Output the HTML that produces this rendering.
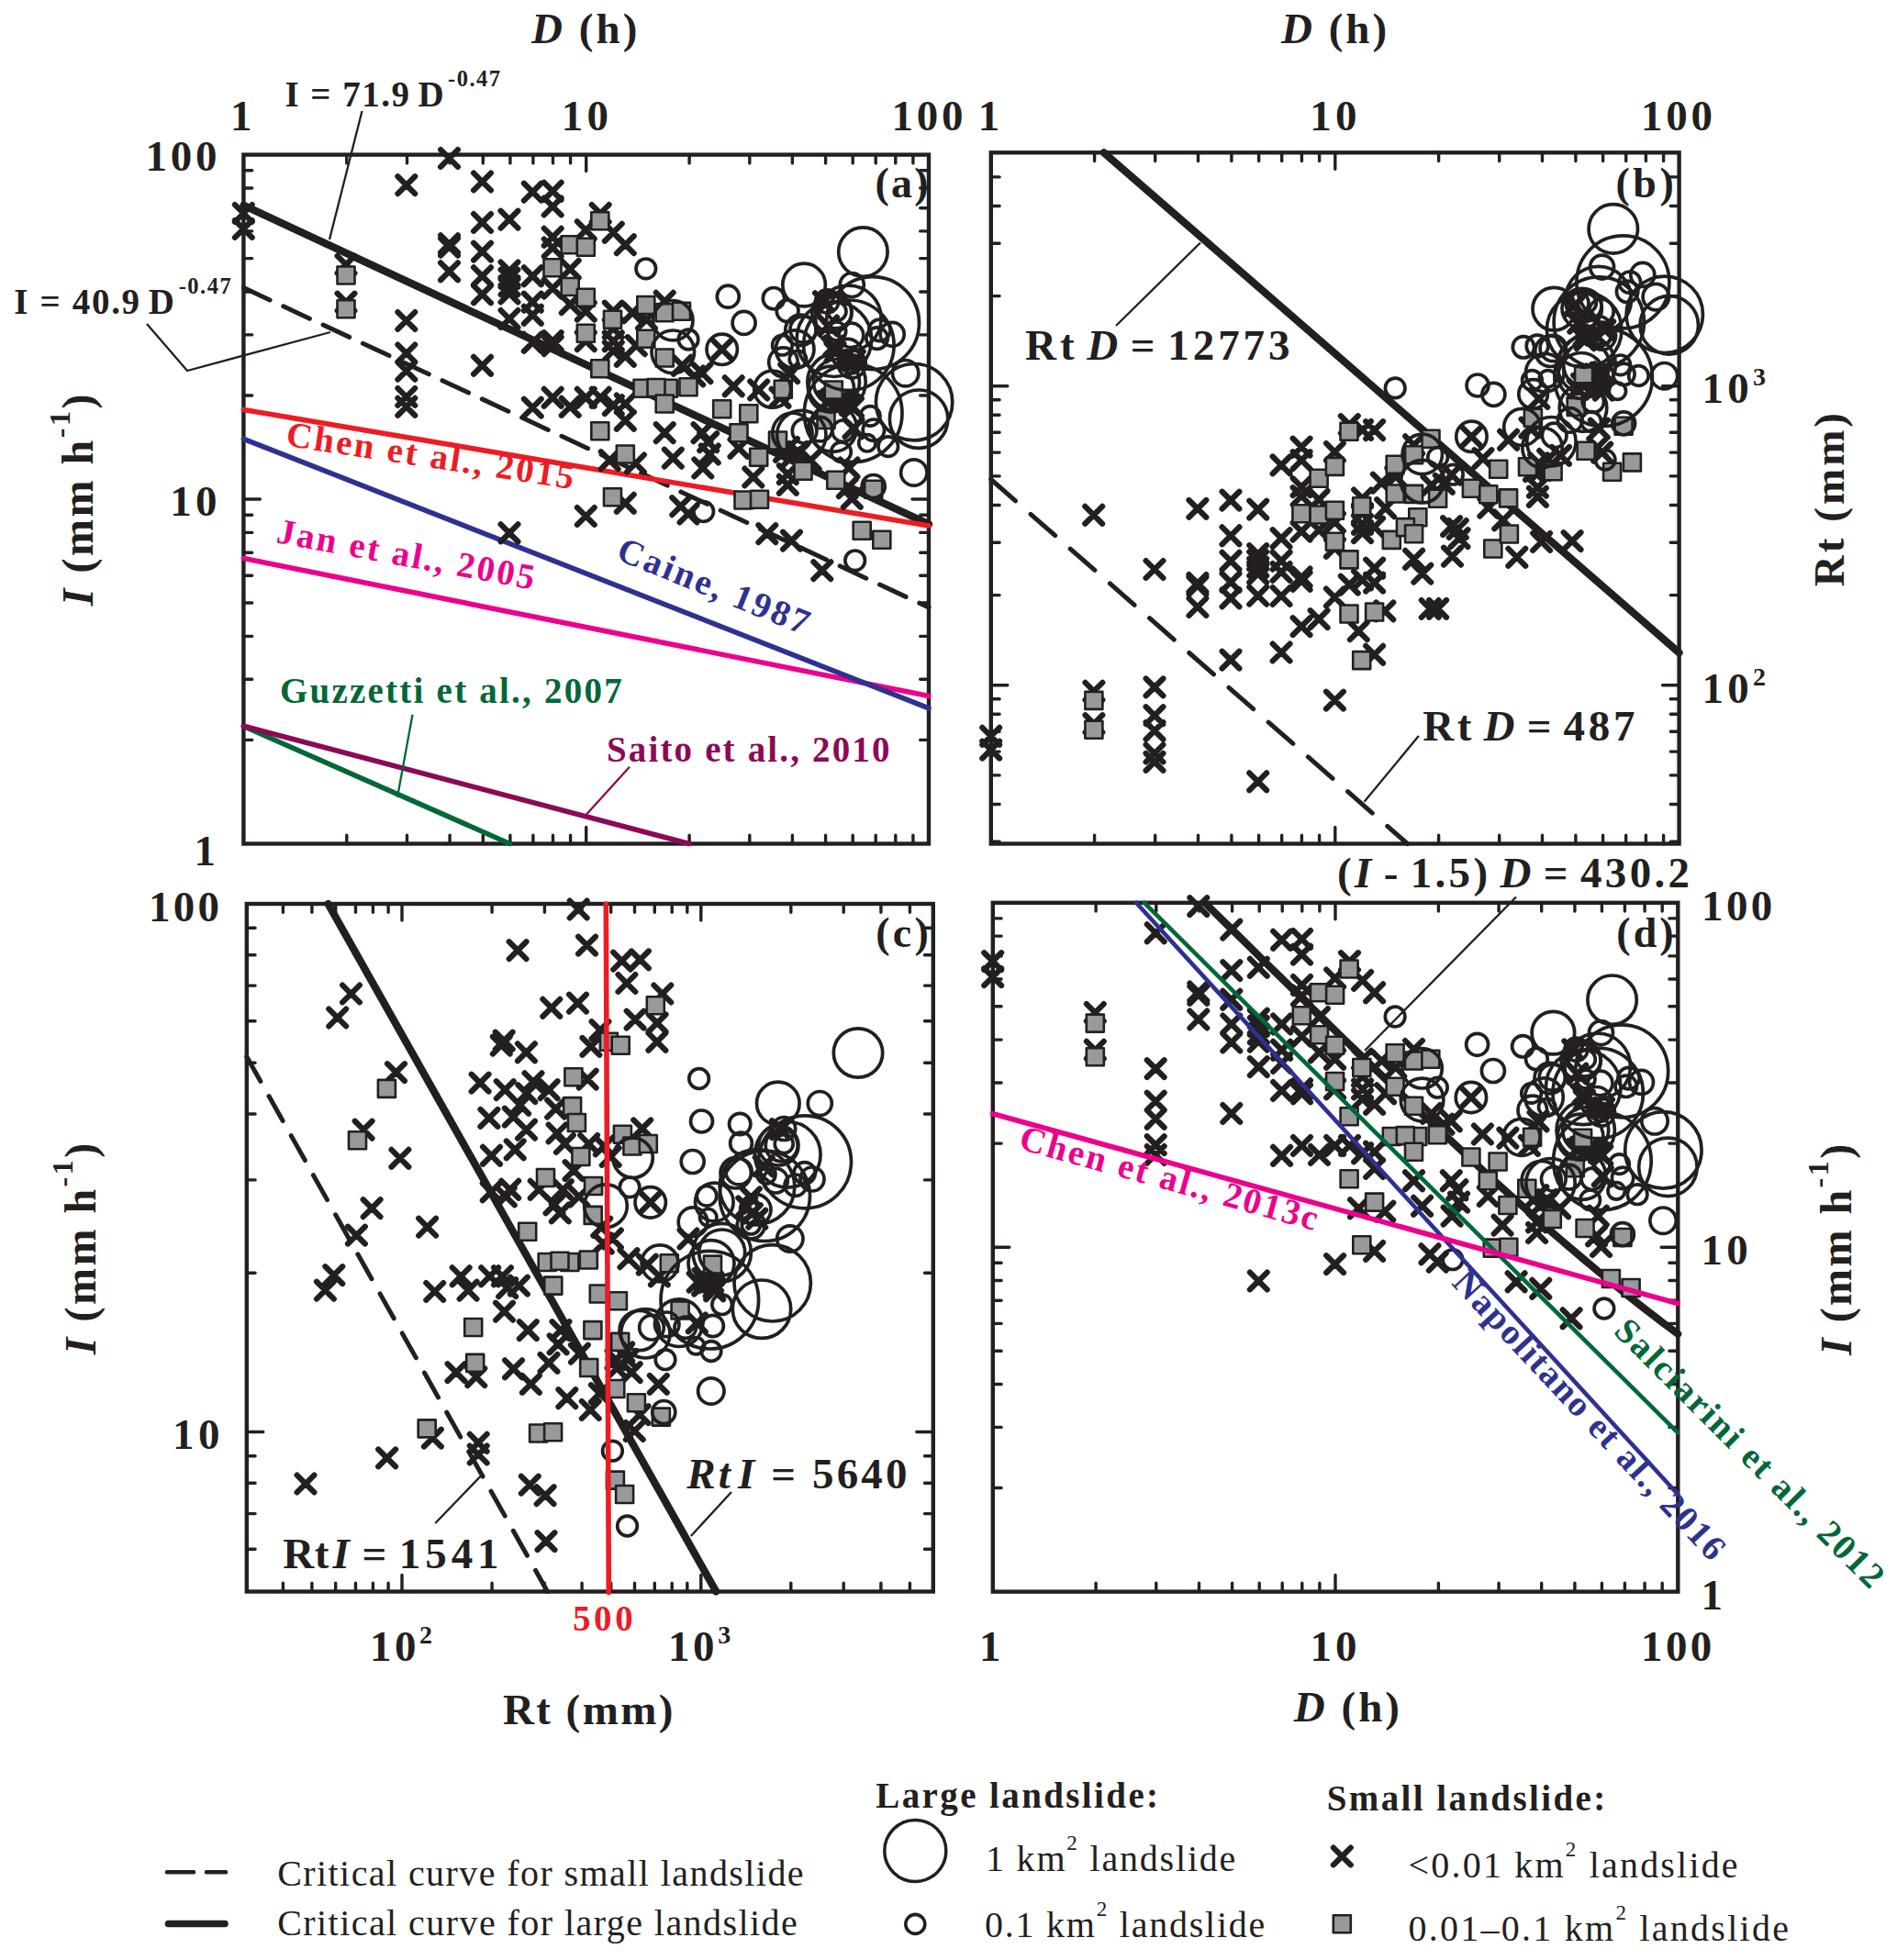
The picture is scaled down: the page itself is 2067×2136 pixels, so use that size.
<!DOCTYPE html>
<html><head><meta charset="utf-8"><title>Rainfall thresholds</title>
<style>
html,body{margin:0;padding:0;background:#fff}
svg{display:block}
</style></head>
<body>
<svg xmlns="http://www.w3.org/2000/svg" width="2067" height="2136" viewBox="0 0 2067 2136">
<rect width="2067" height="2136" fill="#fff"/>
<g font-family="'Liberation Serif','Times New Roman',serif" font-weight="bold" fill="#231f20">
<g id="pa">
<path d="M377.8 168.6v9.3M377.8 919.5v-9.3M443.5 168.6v9.3M443.5 919.5v-9.3M490.1 168.6v9.3M490.1 919.5v-9.3M526.3 168.6v9.3M526.3 919.5v-9.3M555.9 168.6v9.3M555.9 919.5v-9.3M580.9 168.6v9.3M580.9 919.5v-9.3M602.5 168.6v9.3M602.5 919.5v-9.3M621.6 168.6v9.3M621.6 919.5v-9.3M638.7 168.6v18M638.7 919.5v-18M751.1 168.6v9.3M751.1 919.5v-9.3M816.8 168.6v9.3M816.8 919.5v-9.3M863.4 168.6v9.3M863.4 919.5v-9.3M899.6 168.6v9.3M899.6 919.5v-9.3M929.2 168.6v9.3M929.2 919.5v-9.3M954.2 168.6v9.3M954.2 919.5v-9.3M975.8 168.6v9.3M975.8 919.5v-9.3M994.9 168.6v9.3M994.9 919.5v-9.3" stroke="#231f20" stroke-width="3.4" stroke-linecap="round" fill="none"/>
<path d="M265.4 806.4h9.3M1012 806.4h-9.3M265.4 740.3h9.3M1012 740.3h-9.3M265.4 693.4h9.3M1012 693.4h-9.3M265.4 657h9.3M1012 657h-9.3M265.4 627.3h9.3M1012 627.3h-9.3M265.4 602.2h9.3M1012 602.2h-9.3M265.4 580.4h9.3M1012 580.4h-9.3M265.4 561.2h9.3M1012 561.2h-9.3M265.4 544h18M1012 544h-18M265.4 431h9.3M1012 431h-9.3M265.4 364.9h9.3M1012 364.9h-9.3M265.4 318h9.3M1012 318h-9.3M265.4 281.6h9.3M1012 281.6h-9.3M265.4 251.9h9.3M1012 251.9h-9.3M265.4 226.8h9.3M1012 226.8h-9.3M265.4 205h9.3M1012 205h-9.3M265.4 185.8h9.3M1012 185.8h-9.3" stroke="#231f20" stroke-width="3.4" stroke-linecap="round" fill="none"/>
<rect x="265.4" y="168.6" width="746.6" height="750.9" fill="none" stroke="#231f20" stroke-width="4.4"/>
<line x1="265.4" y1="223.8" x2="1012" y2="571.2" stroke="#231f20" stroke-width="8.2" stroke-linecap="round"/>
<line x1="265.4" y1="313.6" x2="1012" y2="662" stroke="#231f20" stroke-width="5" stroke-dasharray="31.6 16.2" stroke-linecap="round"/>
<line x1="265.4" y1="791.5" x2="555.5" y2="919.5" stroke="#006838" stroke-width="5.6" stroke-linecap="round"/>
<line x1="265.4" y1="791.3" x2="751" y2="919.5" stroke="#8c0a55" stroke-width="5.6" stroke-linecap="round"/>
<line x1="265.4" y1="608.6" x2="1012" y2="758.4" stroke="#ec008c" stroke-width="5.6" stroke-linecap="round"/>
<line x1="265.4" y1="478.3" x2="1012" y2="771.8" stroke="#2e3192" stroke-width="5.6" stroke-linecap="round"/>
<line x1="265.4" y1="446.5" x2="1012" y2="573" stroke="#ed1c24" stroke-width="5.6" stroke-linecap="round"/>
<path d="M255.9 223.1l18.8 18.8m0 -18.8l-18.8 18.8M255.9 240.1l18.8 18.8m0 -18.8l-18.8 18.8M367.6 278.9l18.8 18.8m0 -18.8l-18.8 18.8M367.6 319.8l18.8 18.8m0 -18.8l-18.8 18.8M433.4 192.3l18.8 18.8m0 -18.8l-18.8 18.8M433.4 340.1l18.8 18.8m0 -18.8l-18.8 18.8M433.4 375.6l18.8 18.8m0 -18.8l-18.8 18.8M433.4 394.8l18.8 18.8m0 -18.8l-18.8 18.8M433.4 423.1l18.8 18.8m0 -18.8l-18.8 18.8M433.4 433.9l18.8 18.8m0 -18.8l-18.8 18.8M480.1 163.1l18.8 18.8m0 -18.8l-18.8 18.8M480.1 256.4l18.8 18.8m0 -18.8l-18.8 18.8M480.1 259.8l18.8 18.8m0 -18.8l-18.8 18.8M480.1 286.4l18.8 18.8m0 -18.8l-18.8 18.8M516.1 188.6l18.8 18.8m0 -18.8l-18.8 18.8M516.1 233.1l18.8 18.8m0 -18.8l-18.8 18.8M516.1 264.8l18.8 18.8m0 -18.8l-18.8 18.8M516.1 291.4l18.8 18.8m0 -18.8l-18.8 18.8M516.1 311.4l18.8 18.8m0 -18.8l-18.8 18.8M516.1 388.9l18.8 18.8m0 -18.8l-18.8 18.8M545.6 229.8l18.8 18.8m0 -18.8l-18.8 18.8M545.6 285.6l18.8 18.8m0 -18.8l-18.8 18.8M545.6 293.9l18.8 18.8m0 -18.8l-18.8 18.8M545.6 302.3l18.8 18.8m0 -18.8l-18.8 18.8M545.6 310.6l18.8 18.8m0 -18.8l-18.8 18.8M545.6 338.1l18.8 18.8m0 -18.8l-18.8 18.8M570.9 199.8l18.8 18.8m0 -18.8l-18.8 18.8M570.9 291.4l18.8 18.8m0 -18.8l-18.8 18.8M570.9 319.8l18.8 18.8m0 -18.8l-18.8 18.8M570.9 333.9l18.8 18.8m0 -18.8l-18.8 18.8M570.9 363.9l18.8 18.8m0 -18.8l-18.8 18.8M570.9 434.8l18.8 18.8m0 -18.8l-18.8 18.8M592.8 198.9l18.8 18.8m0 -18.8l-18.8 18.8M592.8 215.6l18.8 18.8m0 -18.8l-18.8 18.8M592.8 248.9l18.8 18.8m0 -18.8l-18.8 18.8M592.8 260.6l18.8 18.8m0 -18.8l-18.8 18.8M592.8 304.8l18.8 18.8m0 -18.8l-18.8 18.8M592.8 362.3l18.8 18.8m0 -18.8l-18.8 18.8M592.8 367.3l18.8 18.8m0 -18.8l-18.8 18.8M592.8 423.9l18.8 18.8m0 -18.8l-18.8 18.8M611.8 283.9l18.8 18.8m0 -18.8l-18.8 18.8M611.8 322.3l18.8 18.8m0 -18.8l-18.8 18.8M611.8 433.9l18.8 18.8m0 -18.8l-18.8 18.8M628.9 241.4l18.8 18.8m0 -18.8l-18.8 18.8M628.9 329.8l18.8 18.8m0 -18.8l-18.8 18.8M628.9 362.3l18.8 18.8m0 -18.8l-18.8 18.8M628.9 423.9l18.8 18.8m0 -18.8l-18.8 18.8M644.8 223.1l18.8 18.8m0 -18.8l-18.8 18.8M644.8 423.9l18.8 18.8m0 -18.8l-18.8 18.8M658.9 243.9l18.8 18.8m0 -18.8l-18.8 18.8M658.9 329.8l18.8 18.8m0 -18.8l-18.8 18.8M658.9 348.8l18.8 18.8m0 -18.8l-18.8 18.8M658.9 362.4l18.8 18.8m0 -18.8l-18.8 18.8M658.9 373.1l18.8 18.8m0 -18.8l-18.8 18.8M658.9 432.3l18.8 18.8m0 -18.8l-18.8 18.8M671.9 257.3l18.8 18.8m0 -18.8l-18.8 18.8M679.8 331.4l18.8 18.8m0 -18.8l-18.8 18.8M671.9 378.9l18.8 18.8m0 -18.8l-18.8 18.8M671.9 430.6l18.8 18.8m0 -18.8l-18.8 18.8M671.9 448.9l18.8 18.8m0 -18.8l-18.8 18.8M683.9 367.3l18.8 18.8m0 -18.8l-18.8 18.8M695.1 338.9l18.8 18.8m0 -18.8l-18.8 18.8M714.8 318.9l18.8 18.8m0 -18.8l-18.8 18.8M733.9 388.9l18.8 18.8m0 -18.8l-18.8 18.8M747.3 400.6l18.8 18.8m0 -18.8l-18.8 18.8M755.6 397.3l18.8 18.8m0 -18.8l-18.8 18.8M777.3 371.4l18.8 18.8m0 -18.8l-18.8 18.8M789.8 411.4l18.8 18.8m0 -18.8l-18.8 18.8M817.3 415.6l18.8 18.8m0 -18.8l-18.8 18.8M714.8 462.3l18.8 18.8m0 -18.8l-18.8 18.8M755.6 462.3l18.8 18.8m0 -18.8l-18.8 18.8M762.3 472.3l18.8 18.8m0 -18.8l-18.8 18.8M545.6 571.4l18.8 18.8m0 -18.8l-18.8 18.8M628.9 553.1l18.8 18.8m0 -18.8l-18.8 18.8M671.9 538.9l18.8 18.8m0 -18.8l-18.8 18.8M654.8 492.3l18.8 18.8m0 -18.8l-18.8 18.8M683.1 495.6l18.8 18.8m0 -18.8l-18.8 18.8M723.9 489.8l18.8 18.8m0 -18.8l-18.8 18.8M763.9 485.6l18.8 18.8m0 -18.8l-18.8 18.8M756.4 500.6l18.8 18.8m0 -18.8l-18.8 18.8M732.3 542.3l18.8 18.8m0 -18.8l-18.8 18.8M740.6 550.6l18.8 18.8m0 -18.8l-18.8 18.8M811.4 510.6l18.8 18.8m0 -18.8l-18.8 18.8M795.6 478.9l18.8 18.8m0 -18.8l-18.8 18.8M826.4 572.3l18.8 18.8m0 -18.8l-18.8 18.8M840.6 423.9l18.8 18.8m0 -18.8l-18.8 18.8M848.9 518.9l18.8 18.8m0 -18.8l-18.8 18.8M915.6 500.6l18.8 18.8m0 -18.8l-18.8 18.8M913.9 522.3l18.8 18.8m0 -18.8l-18.8 18.8M918.9 533.9l18.8 18.8m0 -18.8l-18.8 18.8M853.1 579.8l18.8 18.8m0 -18.8l-18.8 18.8M886.4 612.3l18.8 18.8m0 -18.8l-18.8 18.8M873.9 492.3l18.8 18.8m0 -18.8l-18.8 18.8M920.6 457.3l18.8 18.8m0 -18.8l-18.8 18.8M848.9 507.3l18.8 18.8m0 -18.8l-18.8 18.8M903.9 428.9l18.8 18.8m0 -18.8l-18.8 18.8M845.1 483.1l18.8 18.8m0 -18.8l-18.8 18.8M852.6 489.4l18.8 18.8m0 -18.8l-18.8 18.8M860.1 483.1l18.8 18.8m0 -18.8l-18.8 18.8M850.1 478.1l18.8 18.8m0 -18.8l-18.8 18.8M892.6 428.1l18.8 18.8m0 -18.8l-18.8 18.8M901.4 430.6l18.8 18.8m0 -18.8l-18.8 18.8M911.4 428.1l18.8 18.8m0 -18.8l-18.8 18.8M920.1 434.4l18.8 18.8m0 -18.8l-18.8 18.8M888.1 319.4l18.8 18.8m0 -18.8l-18.8 18.8M893.1 345.6l18.8 18.8m0 -18.8l-18.8 18.8M900.6 374.4l18.8 18.8m0 -18.8l-18.8 18.8M911.9 379.4l18.8 18.8m0 -18.8l-18.8 18.8M921.9 383.1l18.8 18.8m0 -18.8l-18.8 18.8M896.9 425.6l18.8 18.8m0 -18.8l-18.8 18.8M906.9 428.1l18.8 18.8m0 -18.8l-18.8 18.8M916.9 431.9l18.8 18.8m0 -18.8l-18.8 18.8M899.4 367.9l18.8 18.8m0 -18.8l-18.8 18.8M850.3 397.3l18.8 18.8m0 -18.8l-18.8 18.8" stroke="#231f20" stroke-width="6.2" stroke-linecap="round" fill="none"/>
<g stroke="#231f20" stroke-width="2.6" fill="#98999c" stroke-linejoin="round">
<rect x="367.5" y="290.5" width="19" height="19"/>
<rect x="367.5" y="327.2" width="19" height="19"/>
<rect x="592.5" y="282.2" width="19" height="19"/>
<rect x="611.7" y="257.2" width="19" height="19"/>
<rect x="611.7" y="303" width="19" height="19"/>
<rect x="628.8" y="259.7" width="19" height="19"/>
<rect x="628.8" y="314.7" width="19" height="19"/>
<rect x="628.8" y="353.8" width="19" height="19"/>
<rect x="644.3" y="231.3" width="19" height="19"/>
<rect x="644.3" y="392.2" width="19" height="19"/>
<rect x="644.3" y="460.2" width="19" height="19"/>
<rect x="658" y="338.8" width="19" height="19"/>
<rect x="694.3" y="323" width="19" height="19"/>
<rect x="694.3" y="359.7" width="19" height="19"/>
<rect x="690.5" y="413.8" width="19" height="19"/>
<rect x="718.8" y="413.8" width="19" height="19"/>
<rect x="705.5" y="413" width="19" height="19"/>
<rect x="740.5" y="412.2" width="19" height="19"/>
<rect x="714.7" y="331.3" width="19" height="19"/>
<rect x="733" y="329.7" width="19" height="19"/>
<rect x="714.7" y="380.5" width="19" height="19"/>
<rect x="714.7" y="430.5" width="19" height="19"/>
<rect x="777.2" y="436.3" width="19" height="19"/>
<rect x="806.3" y="441.3" width="19" height="19"/>
<rect x="795.5" y="462.2" width="19" height="19"/>
<rect x="658" y="532.2" width="19" height="19"/>
<rect x="671.8" y="485.5" width="19" height="19"/>
<rect x="800.5" y="535.5" width="19" height="19"/>
<rect x="818" y="534.7" width="19" height="19"/>
<rect x="817.2" y="488.8" width="19" height="19"/>
<rect x="865.5" y="503.8" width="19" height="19"/>
<rect x="901.3" y="513.8" width="19" height="19"/>
<rect x="942.2" y="523.8" width="19" height="19"/>
<rect x="929.7" y="568.8" width="19" height="19"/>
<rect x="951.3" y="578.8" width="19" height="19"/>
<rect x="843.8" y="414.7" width="19" height="19"/>
<rect x="898.8" y="415.5" width="19" height="19"/>
<rect x="890.5" y="448" width="19" height="19"/>
<rect x="838" y="470.5" width="19" height="19"/>
</g>
<g fill="none" stroke="#231f20" stroke-width="3.7">
<circle cx="703.8" cy="292.8" r="10.8"/>
<circle cx="733.3" cy="349.2" r="21.7"/>
<circle cx="733.3" cy="383.3" r="23.3"/>
<circle cx="750" cy="370" r="10.8"/>
<circle cx="786.7" cy="380.8" r="16.7"/>
<circle cx="766.7" cy="557.5" r="10.8"/>
<circle cx="995.8" cy="515" r="14.2"/>
<circle cx="931.7" cy="610.8" r="10.8"/>
<circle cx="951.7" cy="530" r="12.5"/>
<circle cx="940.4" cy="274.6" r="26.7"/>
<circle cx="793.3" cy="323.2" r="12"/>
<circle cx="843" cy="325.2" r="11.7"/>
<circle cx="876.1" cy="310.5" r="23.3"/>
<circle cx="928.3" cy="310.5" r="13"/>
<circle cx="951" cy="352.1" r="50.5"/>
<circle cx="924.4" cy="346.9" r="35.8"/>
<circle cx="901.2" cy="328.4" r="12.5"/>
<circle cx="912" cy="339.3" r="10"/>
<circle cx="910.3" cy="340.4" r="17.5"/>
<circle cx="906.4" cy="340.4" r="21.7"/>
<circle cx="875.2" cy="358.9" r="14.2"/>
<circle cx="872.4" cy="359.9" r="16.7"/>
<circle cx="958.4" cy="359.9" r="11.7"/>
<circle cx="972.2" cy="364.3" r="13"/>
<circle cx="955.6" cy="368.6" r="11.7"/>
<circle cx="927.5" cy="365.4" r="13.3"/>
<circle cx="911.7" cy="361" r="10"/>
<circle cx="924.9" cy="376.2" r="49.2"/>
<circle cx="908.9" cy="369.7" r="40.8"/>
<circle cx="852.4" cy="376.2" r="10.8"/>
<circle cx="866.2" cy="380.6" r="20.8"/>
<circle cx="869.4" cy="391.5" r="9.2"/>
<circle cx="928.3" cy="396.9" r="10"/>
<circle cx="928.3" cy="396.9" r="15"/>
<circle cx="923.2" cy="386" r="16.7"/>
<circle cx="853.5" cy="394.7" r="15.8"/>
<circle cx="986.7" cy="406.7" r="14.2"/>
<circle cx="911.5" cy="416.5" r="25"/>
<circle cx="911.5" cy="416.5" r="31.7"/>
<circle cx="996.1" cy="438.2" r="41.7"/>
<circle cx="1001.1" cy="456.7" r="31.7"/>
<circle cx="905.6" cy="424.1" r="25"/>
<circle cx="948.2" cy="453.4" r="10.8"/>
<circle cx="916.5" cy="492.6" r="10.8"/>
<circle cx="951.9" cy="468.7" r="11.7"/>
<circle cx="967.8" cy="486.6" r="10.8"/>
<circle cx="944.9" cy="482.8" r="9.2"/>
<circle cx="907.7" cy="466.5" r="25.8"/>
<circle cx="918.6" cy="469.7" r="11.7"/>
<circle cx="893.5" cy="467.6" r="13.3"/>
<circle cx="876.6" cy="469.7" r="13.3"/>
<circle cx="863.4" cy="471.9" r="21.7"/>
<circle cx="873.3" cy="474.1" r="26.7"/>
<circle cx="929.7" cy="450.2" r="53.3"/>
<circle cx="858.1" cy="338.8" r="11.9"/>
<circle cx="841.7" cy="424.2" r="20"/>
<circle cx="810.6" cy="351.9" r="12.5"/>
</g>
<path d="M394.5 121L359 261M160 353L204 404L360 362" stroke="#231f20" stroke-width="2.3" fill="none"/>
<line x1="449.5" y1="778.8" x2="433" y2="868.8" stroke="#006838" stroke-width="2.3" />
<line x1="686" y1="835.8" x2="639" y2="887.5" stroke="#8c0a55" stroke-width="2.3" />
</g>
<g id="pb">
<path d="M1192.6 166.3v9.3M1192.6 919.5v-9.3M1258.7 166.3v9.3M1258.7 919.5v-9.3M1305.5 166.3v9.3M1305.5 919.5v-9.3M1341.9 166.3v9.3M1341.9 919.5v-9.3M1371.6 166.3v9.3M1371.6 919.5v-9.3M1396.7 166.3v9.3M1396.7 919.5v-9.3M1418.4 166.3v9.3M1418.4 919.5v-9.3M1437.6 166.3v9.3M1437.6 919.5v-9.3M1454.8 166.3v18M1454.8 919.5v-18M1567.6 166.3v9.3M1567.6 919.5v-9.3M1633.7 166.3v9.3M1633.7 919.5v-9.3M1680.5 166.3v9.3M1680.5 919.5v-9.3M1716.9 166.3v9.3M1716.9 919.5v-9.3M1746.6 166.3v9.3M1746.6 919.5v-9.3M1771.7 166.3v9.3M1771.7 919.5v-9.3M1793.4 166.3v9.3M1793.4 919.5v-9.3M1812.6 166.3v9.3M1812.6 919.5v-9.3" stroke="#231f20" stroke-width="3.4" stroke-linecap="round" fill="none"/>
<path d="M1079.8 917.2h9.3M1829.6 917.2h-9.3M1079.8 876.5h9.3M1829.6 876.5h-9.3M1079.8 844.9h9.3M1829.6 844.9h-9.3M1079.8 819.1h9.3M1829.6 819.1h-9.3M1079.8 797.2h9.3M1829.6 797.2h-9.3M1079.8 778.3h9.3M1829.6 778.3h-9.3M1079.8 761.7h9.3M1829.6 761.7h-9.3M1079.8 746.8h18M1829.6 746.8h-18M1079.8 648.6h9.3M1829.6 648.6h-9.3M1079.8 591.2h9.3M1829.6 591.2h-9.3M1079.8 550.5h9.3M1829.6 550.5h-9.3M1079.8 518.9h9.3M1829.6 518.9h-9.3M1079.8 493.1h9.3M1829.6 493.1h-9.3M1079.8 471.2h9.3M1829.6 471.2h-9.3M1079.8 452.3h9.3M1829.6 452.3h-9.3M1079.8 435.7h9.3M1829.6 435.7h-9.3M1079.8 420.8h18M1829.6 420.8h-18M1079.8 322.6h9.3M1829.6 322.6h-9.3M1079.8 265.2h9.3M1829.6 265.2h-9.3M1079.8 224.5h9.3M1829.6 224.5h-9.3M1079.8 192.9h9.3M1829.6 192.9h-9.3" stroke="#231f20" stroke-width="3.4" stroke-linecap="round" fill="none"/>
<rect x="1079.8" y="166.3" width="749.8" height="753.2" fill="none" stroke="#231f20" stroke-width="4.4"/>
<line x1="1202.8" y1="166.3" x2="1829.6" y2="711.3" stroke="#231f20" stroke-width="8.2" stroke-linecap="round"/>
<line x1="1079.8" y1="522.5" x2="1533.5" y2="919.5" stroke="#231f20" stroke-width="5" stroke-dasharray="35.5 21.9" stroke-linecap="round"/>
<path d="M1070.3 792.9l18.8 18.8m0 -18.8l-18.8 18.8M1070.3 807.7l18.8 18.8m0 -18.8l-18.8 18.8M1182.5 743.9l18.8 18.8m0 -18.8l-18.8 18.8M1182.5 779.3l18.8 18.8m0 -18.8l-18.8 18.8M1248.6 611.1l18.8 18.8m0 -18.8l-18.8 18.8M1248.6 739.5l18.8 18.8m0 -18.8l-18.8 18.8M1248.6 770.3l18.8 18.8m0 -18.8l-18.8 18.8M1248.6 787l18.8 18.8m0 -18.8l-18.8 18.8M1248.6 811.6l18.8 18.8m0 -18.8l-18.8 18.8M1248.6 821l18.8 18.8m0 -18.8l-18.8 18.8M1295.5 545l18.8 18.8m0 -18.8l-18.8 18.8M1295.5 626.1l18.8 18.8m0 -18.8l-18.8 18.8M1295.5 629l18.8 18.8m0 -18.8l-18.8 18.8M1295.5 652.1l18.8 18.8m0 -18.8l-18.8 18.8M1331.6 535.7l18.8 18.8m0 -18.8l-18.8 18.8M1331.6 574.4l18.8 18.8m0 -18.8l-18.8 18.8M1331.6 601.9l18.8 18.8m0 -18.8l-18.8 18.8M1331.6 625l18.8 18.8m0 -18.8l-18.8 18.8M1331.6 642.4l18.8 18.8m0 -18.8l-18.8 18.8M1331.6 709.7l18.8 18.8m0 -18.8l-18.8 18.8M1361.3 545.7l18.8 18.8m0 -18.8l-18.8 18.8M1361.3 594.2l18.8 18.8m0 -18.8l-18.8 18.8M1361.3 601.4l18.8 18.8m0 -18.8l-18.8 18.8M1361.3 608.7l18.8 18.8m0 -18.8l-18.8 18.8M1361.3 615.9l18.8 18.8m0 -18.8l-18.8 18.8M1361.3 639.8l18.8 18.8m0 -18.8l-18.8 18.8M1386.7 497.5l18.8 18.8m0 -18.8l-18.8 18.8M1386.7 577.2l18.8 18.8m0 -18.8l-18.8 18.8M1386.7 601.8l18.8 18.8m0 -18.8l-18.8 18.8M1386.7 614.1l18.8 18.8m0 -18.8l-18.8 18.8M1386.7 640.1l18.8 18.8m0 -18.8l-18.8 18.8M1386.7 701.6l18.8 18.8m0 -18.8l-18.8 18.8M1408.7 477.8l18.8 18.8m0 -18.8l-18.8 18.8M1408.7 492.2l18.8 18.8m0 -18.8l-18.8 18.8M1408.7 521.2l18.8 18.8m0 -18.8l-18.8 18.8M1408.7 531.3l18.8 18.8m0 -18.8l-18.8 18.8M1408.7 569.7l18.8 18.8m0 -18.8l-18.8 18.8M1408.7 619.6l18.8 18.8m0 -18.8l-18.8 18.8M1408.7 623.9l18.8 18.8m0 -18.8l-18.8 18.8M1408.7 673.2l18.8 18.8m0 -18.8l-18.8 18.8M1427.7 535l18.8 18.8m0 -18.8l-18.8 18.8M1427.7 568.3l18.8 18.8m0 -18.8l-18.8 18.8M1427.7 665.2l18.8 18.8m0 -18.8l-18.8 18.8M1445 483.1l18.8 18.8m0 -18.8l-18.8 18.8M1445 559.8l18.8 18.8m0 -18.8l-18.8 18.8M1445 588l18.8 18.8m0 -18.8l-18.8 18.8M1445 641.6l18.8 18.8m0 -18.8l-18.8 18.8M1460.9 453.3l18.8 18.8m0 -18.8l-18.8 18.8M1460.9 627.7l18.8 18.8m0 -18.8l-18.8 18.8M1475.1 459.1l18.8 18.8m0 -18.8l-18.8 18.8M1475.1 533.6l18.8 18.8m0 -18.8l-18.8 18.8M1475.1 550.1l18.8 18.8m0 -18.8l-18.8 18.8M1475.1 562l18.8 18.8m0 -18.8l-18.8 18.8M1475.1 571.2l18.8 18.8m0 -18.8l-18.8 18.8M1475.1 622.6l18.8 18.8m0 -18.8l-18.8 18.8M1488.2 459.3l18.8 18.8m0 -18.8l-18.8 18.8M1496 516.8l18.8 18.8m0 -18.8l-18.8 18.8M1488.2 564.9l18.8 18.8m0 -18.8l-18.8 18.8M1488.2 609.8l18.8 18.8m0 -18.8l-18.8 18.8M1488.2 625.7l18.8 18.8m0 -18.8l-18.8 18.8M1500.2 544.3l18.8 18.8m0 -18.8l-18.8 18.8M1511.4 510l18.8 18.8m0 -18.8l-18.8 18.8M1531.2 475.4l18.8 18.8m0 -18.8l-18.8 18.8M1550.5 519.5l18.8 18.8m0 -18.8l-18.8 18.8M1563.9 518l18.8 18.8m0 -18.8l-18.8 18.8M1572.2 507.8l18.8 18.8m0 -18.8l-18.8 18.8M1594 466.4l18.8 18.8m0 -18.8l-18.8 18.8M1606.5 490.3l18.8 18.8m0 -18.8l-18.8 18.8M1634.2 469.9l18.8 18.8m0 -18.8l-18.8 18.8M1531.2 599.9l18.8 18.8m0 -18.8l-18.8 18.8M1572.2 564.2l18.8 18.8m0 -18.8l-18.8 18.8M1578.9 567.1l18.8 18.8m0 -18.8l-18.8 18.8M1361.3 842.4l18.8 18.8m0 -18.8l-18.8 18.8M1445 753.7l18.8 18.8m0 -18.8l-18.8 18.8M1488.2 703.9l18.8 18.8m0 -18.8l-18.8 18.8M1470.9 678.3l18.8 18.8m0 -18.8l-18.8 18.8M1499.4 656.5l18.8 18.8m0 -18.8l-18.8 18.8M1540.4 615.8l18.8 18.8m0 -18.8l-18.8 18.8M1580.6 577.2l18.8 18.8m0 -18.8l-18.8 18.8M1573.1 596.8l18.8 18.8m0 -18.8l-18.8 18.8M1548.8 654.1l18.8 18.8m0 -18.8l-18.8 18.8M1557.2 654l18.8 18.8m0 -18.8l-18.8 18.8M1628.3 557.5l18.8 18.8m0 -18.8l-18.8 18.8M1612.4 543.8l18.8 18.8m0 -18.8l-18.8 18.8M1643.4 597.9l18.8 18.8m0 -18.8l-18.8 18.8M1657.6 456.7l18.8 18.8m0 -18.8l-18.8 18.8M1666 531.9l18.8 18.8m0 -18.8l-18.8 18.8M1733 457.8l18.8 18.8m0 -18.8l-18.8 18.8M1731.3 478.1l18.8 18.8m0 -18.8l-18.8 18.8M1736.3 483.8l18.8 18.8m0 -18.8l-18.8 18.8M1670.2 581.1l18.8 18.8m0 -18.8l-18.8 18.8M1703.7 580.2l18.8 18.8m0 -18.8l-18.8 18.8M1691.1 487l18.8 18.8m0 -18.8l-18.8 18.8M1738 415.8l18.8 18.8m0 -18.8l-18.8 18.8M1666 521.8l18.8 18.8m0 -18.8l-18.8 18.8M1721.2 405.8l18.8 18.8m0 -18.8l-18.8 18.8M1662.1 504.2l18.8 18.8m0 -18.8l-18.8 18.8M1669.7 503.1l18.8 18.8m0 -18.8l-18.8 18.8M1677.2 491.1l18.8 18.8m0 -18.8l-18.8 18.8M1667.2 495.5l18.8 18.8m0 -18.8l-18.8 18.8M1709.8 414.9l18.8 18.8m0 -18.8l-18.8 18.8M1718.7 409.4l18.8 18.8m0 -18.8l-18.8 18.8M1728.7 398.5l18.8 18.8m0 -18.8l-18.8 18.8M1737.5 396.4l18.8 18.8m0 -18.8l-18.8 18.8M1705.3 324.5l18.8 18.8m0 -18.8l-18.8 18.8M1710.4 342.8l18.8 18.8m0 -18.8l-18.8 18.8M1717.9 361.3l18.8 18.8m0 -18.8l-18.8 18.8M1729.2 355.8l18.8 18.8m0 -18.8l-18.8 18.8M1739.3 350.3l18.8 18.8m0 -18.8l-18.8 18.8M1714.2 409l18.8 18.8m0 -18.8l-18.8 18.8M1724.2 402.4l18.8 18.8m0 -18.8l-18.8 18.8M1734.3 397l18.8 18.8m0 -18.8l-18.8 18.8M1716.7 356.7l18.8 18.8m0 -18.8l-18.8 18.8M1667.4 425.1l18.8 18.8m0 -18.8l-18.8 18.8M1182.3 551.9l18.8 18.8m0 -18.8l-18.8 18.8" stroke="#231f20" stroke-width="6.2" stroke-linecap="round" fill="none"/>
<g stroke="#231f20" stroke-width="2.6" fill="#98999c" stroke-linejoin="round">
<rect x="1182.4" y="753.9" width="19" height="19"/>
<rect x="1182.4" y="785.7" width="19" height="19"/>
<rect x="1408.4" y="550.2" width="19" height="19"/>
<rect x="1427.6" y="511.7" width="19" height="19"/>
<rect x="1427.6" y="551.5" width="19" height="19"/>
<rect x="1444.9" y="498.9" width="19" height="19"/>
<rect x="1444.9" y="546.7" width="19" height="19"/>
<rect x="1444.9" y="580.7" width="19" height="19"/>
<rect x="1460.5" y="460.8" width="19" height="19"/>
<rect x="1460.5" y="600.4" width="19" height="19"/>
<rect x="1460.5" y="659.5" width="19" height="19"/>
<rect x="1474.2" y="542.2" width="19" height="19"/>
<rect x="1510.7" y="496.7" width="19" height="19"/>
<rect x="1510.7" y="528.5" width="19" height="19"/>
<rect x="1506.8" y="578.9" width="19" height="19"/>
<rect x="1535.3" y="554.2" width="19" height="19"/>
<rect x="1521.9" y="565.1" width="19" height="19"/>
<rect x="1557.1" y="533.8" width="19" height="19"/>
<rect x="1531.1" y="486.2" width="19" height="19"/>
<rect x="1549.5" y="468.7" width="19" height="19"/>
<rect x="1531.1" y="528.9" width="19" height="19"/>
<rect x="1531.1" y="572.3" width="19" height="19"/>
<rect x="1593.9" y="522.8" width="19" height="19"/>
<rect x="1623.2" y="501.7" width="19" height="19"/>
<rect x="1612.3" y="529.2" width="19" height="19"/>
<rect x="1474.2" y="710.1" width="19" height="19"/>
<rect x="1488.1" y="657.5" width="19" height="19"/>
<rect x="1617.3" y="588.5" width="19" height="19"/>
<rect x="1634.9" y="572.5" width="19" height="19"/>
<rect x="1634.1" y="533.4" width="19" height="19"/>
<rect x="1682.6" y="504.3" width="19" height="19"/>
<rect x="1718.6" y="481.7" width="19" height="19"/>
<rect x="1759.6" y="454.7" width="19" height="19"/>
<rect x="1747.1" y="504.7" width="19" height="19"/>
<rect x="1768.9" y="494.4" width="19" height="19"/>
<rect x="1660.9" y="445.7" width="19" height="19"/>
<rect x="1716.1" y="398.4" width="19" height="19"/>
<rect x="1707.7" y="433.9" width="19" height="19"/>
<rect x="1655" y="499.3" width="19" height="19"/>
</g>
<g fill="none" stroke="#231f20" stroke-width="3.7">
<circle cx="1520.2" cy="422.9" r="10.8"/>
<circle cx="1549.8" cy="494.9" r="21.7"/>
<circle cx="1549.8" cy="524.6" r="23.3"/>
<circle cx="1566.6" cy="498.4" r="10.8"/>
<circle cx="1603.4" cy="475.8" r="16.7"/>
<circle cx="1583.3" cy="517.2" r="10.8"/>
<circle cx="1813.5" cy="409.7" r="14.2"/>
<circle cx="1749.1" cy="501.1" r="10.8"/>
<circle cx="1769.1" cy="461.3" r="12.5"/>
<circle cx="1757.8" cy="249.4" r="26.7"/>
<circle cx="1610" cy="420" r="12"/>
<circle cx="1660" cy="378.3" r="11.7"/>
<circle cx="1693.3" cy="336.6" r="23.3"/>
<circle cx="1745.6" cy="291.1" r="13"/>
<circle cx="1768.4" cy="307.4" r="50.5"/>
<circle cx="1741.7" cy="326.1" r="35.8"/>
<circle cx="1718.5" cy="330.3" r="12.5"/>
<circle cx="1729.3" cy="330.3" r="10"/>
<circle cx="1727.5" cy="332.8" r="17.5"/>
<circle cx="1723.7" cy="336.1" r="21.7"/>
<circle cx="1692.3" cy="379.5" r="14.2"/>
<circle cx="1689.5" cy="382.8" r="16.7"/>
<circle cx="1775.9" cy="307.7" r="11.7"/>
<circle cx="1789.8" cy="299.4" r="13"/>
<circle cx="1773.1" cy="317.8" r="11.7"/>
<circle cx="1744.9" cy="339.4" r="13.3"/>
<circle cx="1729" cy="349.4" r="10"/>
<circle cx="1742.3" cy="351.1" r="49.2"/>
<circle cx="1726.2" cy="359.5" r="40.8"/>
<circle cx="1669.4" cy="414.5" r="10.8"/>
<circle cx="1683.3" cy="406.2" r="20.8"/>
<circle cx="1686.5" cy="412.8" r="9.2"/>
<circle cx="1745.6" cy="366.1" r="10"/>
<circle cx="1745.6" cy="366.1" r="15"/>
<circle cx="1740.5" cy="361.1" r="16.7"/>
<circle cx="1670.6" cy="429.5" r="15.8"/>
<circle cx="1804.3" cy="323.6" r="14.2"/>
<circle cx="1728.7" cy="397.8" r="25"/>
<circle cx="1728.7" cy="397.8" r="31.7"/>
<circle cx="1813.8" cy="342.8" r="41.7"/>
<circle cx="1818.8" cy="354.4" r="31.7"/>
<circle cx="1722.9" cy="409.5" r="25"/>
<circle cx="1765.7" cy="397.8" r="10.8"/>
<circle cx="1733.8" cy="459.5" r="10.8"/>
<circle cx="1769.4" cy="407.8" r="11.7"/>
<circle cx="1785.4" cy="409.5" r="10.8"/>
<circle cx="1762.4" cy="426.2" r="9.2"/>
<circle cx="1725" cy="444.5" r="25.8"/>
<circle cx="1735.9" cy="437.8" r="11.7"/>
<circle cx="1710.7" cy="457.9" r="13.3"/>
<circle cx="1693.7" cy="474.5" r="13.3"/>
<circle cx="1680.5" cy="487.9" r="21.7"/>
<circle cx="1690.4" cy="481.2" r="26.7"/>
<circle cx="1747.1" cy="411.2" r="53.3"/>
<circle cx="1675.1" cy="377" r="11.9"/>
<circle cx="1658.7" cy="465.4" r="20"/>
<circle cx="1627.4" cy="429.8" r="12.5"/>
</g>
<line x1="1308" y1="264.5" x2="1216" y2="355" stroke="#231f20" stroke-width="2.3" />
<line x1="1545.8" y1="802" x2="1486.5" y2="873.8" stroke="#231f20" stroke-width="2.3" />
</g>
<g id="pc">
<path d="M308.4 985v9.3M308.4 1734.5v-9.3M339.9 985v9.3M339.9 1734.5v-9.3M365.7 985v9.3M365.7 1734.5v-9.3M387.5 985v9.3M387.5 1734.5v-9.3M406.4 985v9.3M406.4 1734.5v-9.3M423.1 985v9.3M423.1 1734.5v-9.3M438 985v18M438 1734.5v-18M536.1 985v9.3M536.1 1734.5v-9.3M593.4 985v9.3M593.4 1734.5v-9.3M634.1 985v9.3M634.1 1734.5v-9.3M665.7 985v9.3M665.7 1734.5v-9.3M691.5 985v9.3M691.5 1734.5v-9.3M713.3 985v9.3M713.3 1734.5v-9.3M732.2 985v9.3M732.2 1734.5v-9.3M748.8 985v9.3M748.8 1734.5v-9.3M763.8 985v18M763.8 1734.5v-18M861.8 985v9.3M861.8 1734.5v-9.3M919.2 985v9.3M919.2 1734.5v-9.3M959.9 985v9.3M959.9 1734.5v-9.3M991.4 985v9.3M991.4 1734.5v-9.3" stroke="#231f20" stroke-width="3.4" stroke-linecap="round" fill="none"/>
<path d="M268.8 1688.2h9.3M1016.8 1688.2h-9.3M268.8 1649.6h9.3M1016.8 1649.6h-9.3M268.8 1616.3h9.3M1016.8 1616.3h-9.3M268.8 1586.8h9.3M1016.8 1586.8h-9.3M268.8 1560.5h18M1016.8 1560.5h-18M268.8 1387.3h9.3M1016.8 1387.3h-9.3M268.8 1285.9h9.3M1016.8 1285.9h-9.3M268.8 1214h9.3M1016.8 1214h-9.3M268.8 1158.2h9.3M1016.8 1158.2h-9.3M268.8 1112.7h9.3M1016.8 1112.7h-9.3M268.8 1074.1h9.3M1016.8 1074.1h-9.3M268.8 1040.8h9.3M1016.8 1040.8h-9.3M268.8 1011.3h9.3M1016.8 1011.3h-9.3" stroke="#231f20" stroke-width="3.4" stroke-linecap="round" fill="none"/>
<rect x="268.8" y="985" width="748" height="749.5" fill="none" stroke="#231f20" stroke-width="4.4"/>
<line x1="357.5" y1="985" x2="780.3" y2="1734.5" stroke="#231f20" stroke-width="8.2" stroke-linecap="round"/>
<line x1="268.8" y1="1151.5" x2="596.5" y2="1734.5" stroke="#231f20" stroke-width="5" stroke-dasharray="30.9 18.5" stroke-linecap="round"/>
<path d="M373.1 1073.6l18.8 18.8m0 -18.8l-18.8 18.8M358.3 1099.6l18.8 18.8m0 -18.8l-18.8 18.8M422.1 1159.2l18.8 18.8m0 -18.8l-18.8 18.8M386.7 1221.8l18.8 18.8m0 -18.8l-18.8 18.8M554.7 1026.3l18.8 18.8m0 -18.8l-18.8 18.8M426.5 1252.9l18.8 18.8m0 -18.8l-18.8 18.8M395.7 1307.3l18.8 18.8m0 -18.8l-18.8 18.8M379 1336.7l18.8 18.8m0 -18.8l-18.8 18.8M354.4 1380.2l18.8 18.8m0 -18.8l-18.8 18.8M345 1396.8l18.8 18.8m0 -18.8l-18.8 18.8M620.8 981.6l18.8 18.8m0 -18.8l-18.8 18.8M539.8 1124.7l18.8 18.8m0 -18.8l-18.8 18.8M536.9 1129.8l18.8 18.8m0 -18.8l-18.8 18.8M513.7 1170.7l18.8 18.8m0 -18.8l-18.8 18.8M630.1 1020.7l18.8 18.8m0 -18.8l-18.8 18.8M591.4 1088.9l18.8 18.8m0 -18.8l-18.8 18.8M564 1137.4l18.8 18.8m0 -18.8l-18.8 18.8M540.8 1178.3l18.8 18.8m0 -18.8l-18.8 18.8M523.5 1209l18.8 18.8m0 -18.8l-18.8 18.8M456.2 1327.8l18.8 18.8m0 -18.8l-18.8 18.8M620.1 1083.8l18.8 18.8m0 -18.8l-18.8 18.8M571.6 1169.4l18.8 18.8m0 -18.8l-18.8 18.8M564.4 1182.2l18.8 18.8m0 -18.8l-18.8 18.8M557.2 1194.9l18.8 18.8m0 -18.8l-18.8 18.8M549.9 1207.7l18.8 18.8m0 -18.8l-18.8 18.8M526.1 1249.9l18.8 18.8m0 -18.8l-18.8 18.8M668.2 1037.8l18.8 18.8m0 -18.8l-18.8 18.8M588.7 1178.3l18.8 18.8m0 -18.8l-18.8 18.8M564.1 1221.8l18.8 18.8m0 -18.8l-18.8 18.8M551.8 1243.5l18.8 18.8m0 -18.8l-18.8 18.8M525.8 1289.5l18.8 18.8m0 -18.8l-18.8 18.8M464.3 1398.1l18.8 18.8m0 -18.8l-18.8 18.8M688 1036.5l18.8 18.8m0 -18.8l-18.8 18.8M673.5 1062.1l18.8 18.8m0 -18.8l-18.8 18.8M644.6 1113.2l18.8 18.8m0 -18.8l-18.8 18.8M634.5 1131l18.8 18.8m0 -18.8l-18.8 18.8M596.2 1198.8l18.8 18.8m0 -18.8l-18.8 18.8M546.3 1286.9l18.8 18.8m0 -18.8l-18.8 18.8M541.9 1294.6l18.8 18.8m0 -18.8l-18.8 18.8M492.8 1381.4l18.8 18.8m0 -18.8l-18.8 18.8M630.8 1166.8l18.8 18.8m0 -18.8l-18.8 18.8M597.6 1225.6l18.8 18.8m0 -18.8l-18.8 18.8M500.7 1396.8l18.8 18.8m0 -18.8l-18.8 18.8M682.7 1101.7l18.8 18.8m0 -18.8l-18.8 18.8M606 1237.1l18.8 18.8m0 -18.8l-18.8 18.8M577.8 1286.9l18.8 18.8m0 -18.8l-18.8 18.8M524.3 1381.4l18.8 18.8m0 -18.8l-18.8 18.8M712.4 1073.6l18.8 18.8m0 -18.8l-18.8 18.8M538.1 1381.4l18.8 18.8m0 -18.8l-18.8 18.8M706.7 1105.5l18.8 18.8m0 -18.8l-18.8 18.8M632.2 1237.1l18.8 18.8m0 -18.8l-18.8 18.8M615.7 1266.2l18.8 18.8m0 -18.8l-18.8 18.8M603.9 1287.2l18.8 18.8m0 -18.8l-18.8 18.8M594.6 1303.5l18.8 18.8m0 -18.8l-18.8 18.8M543.3 1394.2l18.8 18.8m0 -18.8l-18.8 18.8M706.5 1125.9l18.8 18.8m0 -18.8l-18.8 18.8M648.9 1239.6l18.8 18.8m0 -18.8l-18.8 18.8M600.9 1312.5l18.8 18.8m0 -18.8l-18.8 18.8M556 1391.7l18.8 18.8m0 -18.8l-18.8 18.8M540.1 1419.8l18.8 18.8m0 -18.8l-18.8 18.8M621.5 1294.6l18.8 18.8m0 -18.8l-18.8 18.8M655.8 1251.1l18.8 18.8m0 -18.8l-18.8 18.8M690.3 1220.5l18.8 18.8m0 -18.8l-18.8 18.8M646.3 1327.8l18.8 18.8m0 -18.8l-18.8 18.8M647.8 1345.7l18.8 18.8m0 -18.8l-18.8 18.8M658 1340.6l18.8 18.8m0 -18.8l-18.8 18.8M699.3 1301l18.8 18.8m0 -18.8l-18.8 18.8M675.5 1362.3l18.8 18.8m0 -18.8l-18.8 18.8M695.9 1368.7l18.8 18.8m0 -18.8l-18.8 18.8M565.9 1440.2l18.8 18.8m0 -18.8l-18.8 18.8M601.6 1440.2l18.8 18.8m0 -18.8l-18.8 18.8M598.7 1455.5l18.8 18.8m0 -18.8l-18.8 18.8M323.6 1607.6l18.8 18.8m0 -18.8l-18.8 18.8M412.2 1579.5l18.8 18.8m0 -18.8l-18.8 18.8M462 1557.7l18.8 18.8m0 -18.8l-18.8 18.8M487.6 1486.2l18.8 18.8m0 -18.8l-18.8 18.8M509.4 1491.3l18.8 18.8m0 -18.8l-18.8 18.8M550.1 1482.4l18.8 18.8m0 -18.8l-18.8 18.8M588.6 1476l18.8 18.8m0 -18.8l-18.8 18.8M569 1499l18.8 18.8m0 -18.8l-18.8 18.8M511.8 1562.9l18.8 18.8m0 -18.8l-18.8 18.8M511.8 1575.6l18.8 18.8m0 -18.8l-18.8 18.8M608.4 1514.3l18.8 18.8m0 -18.8l-18.8 18.8M622 1465.8l18.8 18.8m0 -18.8l-18.8 18.8M567.9 1608.8l18.8 18.8m0 -18.8l-18.8 18.8M709 1381.4l18.8 18.8m0 -18.8l-18.8 18.8M633.9 1527.1l18.8 18.8m0 -18.8l-18.8 18.8M707.9 1499l18.8 18.8m0 -18.8l-18.8 18.8M687.7 1532.2l18.8 18.8m0 -18.8l-18.8 18.8M681.9 1550.1l18.8 18.8m0 -18.8l-18.8 18.8M584.7 1620.3l18.8 18.8m0 -18.8l-18.8 18.8M585.6 1670.2l18.8 18.8m0 -18.8l-18.8 18.8M678.8 1486.2l18.8 18.8m0 -18.8l-18.8 18.8M749.9 1432.5l18.8 18.8m0 -18.8l-18.8 18.8M644 1509.2l18.8 18.8m0 -18.8l-18.8 18.8M759.9 1389.1l18.8 18.8m0 -18.8l-18.8 18.8M661.6 1472.1l18.8 18.8m0 -18.8l-18.8 18.8M662.7 1481.8l18.8 18.8m0 -18.8l-18.8 18.8M674.7 1472.1l18.8 18.8m0 -18.8l-18.8 18.8M670.3 1464.5l18.8 18.8m0 -18.8l-18.8 18.8M750.8 1387.8l18.8 18.8m0 -18.8l-18.8 18.8M756.3 1391.7l18.8 18.8m0 -18.8l-18.8 18.8M767.2 1387.8l18.8 18.8m0 -18.8l-18.8 18.8M769.3 1397.5l18.8 18.8m0 -18.8l-18.8 18.8M841.2 1221.2l18.8 18.8m0 -18.8l-18.8 18.8M822.8 1261.4l18.8 18.8m0 -18.8l-18.8 18.8M804.4 1305.5l18.8 18.8m0 -18.8l-18.8 18.8M809.9 1313.2l18.8 18.8m0 -18.8l-18.8 18.8M815.4 1318.8l18.8 18.8m0 -18.8l-18.8 18.8M756.7 1384l18.8 18.8m0 -18.8l-18.8 18.8M763.3 1387.8l18.8 18.8m0 -18.8l-18.8 18.8M768.7 1393.7l18.8 18.8m0 -18.8l-18.8 18.8M808.9 1295.5l18.8 18.8m0 -18.8l-18.8 18.8M740.6 1340.6l18.8 18.8m0 -18.8l-18.8 18.8" stroke="#231f20" stroke-width="6.2" stroke-linecap="round" fill="none"/>
<g stroke="#231f20" stroke-width="2.6" fill="#98999c" stroke-linejoin="round">
<rect x="411.9" y="1176.9" width="19" height="19"/>
<rect x="380" y="1233.2" width="19" height="19"/>
<rect x="615.4" y="1164.2" width="19" height="19"/>
<rect x="653.9" y="1125.8" width="19" height="19"/>
<rect x="614.1" y="1196.1" width="19" height="19"/>
<rect x="666.7" y="1129.7" width="19" height="19"/>
<rect x="618.9" y="1214" width="19" height="19"/>
<rect x="585" y="1274" width="19" height="19"/>
<rect x="704.8" y="1086.2" width="19" height="19"/>
<rect x="565.2" y="1332.8" width="19" height="19"/>
<rect x="506.2" y="1437" width="19" height="19"/>
<rect x="623.4" y="1251" width="19" height="19"/>
<rect x="668.9" y="1226.8" width="19" height="19"/>
<rect x="637" y="1283" width="19" height="19"/>
<rect x="586.7" y="1366" width="19" height="19"/>
<rect x="611.4" y="1366" width="19" height="19"/>
<rect x="600.5" y="1364.7" width="19" height="19"/>
<rect x="631.8" y="1363.5" width="19" height="19"/>
<rect x="679.4" y="1239.5" width="19" height="19"/>
<rect x="696.8" y="1237" width="19" height="19"/>
<rect x="636.7" y="1314.9" width="19" height="19"/>
<rect x="593.3" y="1391.6" width="19" height="19"/>
<rect x="642.8" y="1400.5" width="19" height="19"/>
<rect x="663.9" y="1408.2" width="19" height="19"/>
<rect x="636.4" y="1440.1" width="19" height="19"/>
<rect x="455.7" y="1547.4" width="19" height="19"/>
<rect x="508.2" y="1475.9" width="19" height="19"/>
<rect x="577.1" y="1552.5" width="19" height="19"/>
<rect x="593.1" y="1551.3" width="19" height="19"/>
<rect x="632.2" y="1481" width="19" height="19"/>
<rect x="661.3" y="1504" width="19" height="19"/>
<rect x="683.9" y="1519.3" width="19" height="19"/>
<rect x="710.9" y="1534.6" width="19" height="19"/>
<rect x="660.9" y="1603.6" width="19" height="19"/>
<rect x="671.1" y="1619" width="19" height="19"/>
<rect x="719.8" y="1367.3" width="19" height="19"/>
<rect x="767" y="1368.6" width="19" height="19"/>
<rect x="731.6" y="1418.4" width="19" height="19"/>
<rect x="666.2" y="1452.9" width="19" height="19"/>
</g>
<g fill="none" stroke="#231f20" stroke-width="3.7">
<circle cx="761.6" cy="1175.5" r="10.8"/>
<circle cx="689.6" cy="1261.8" r="21.7"/>
<circle cx="660" cy="1314.2" r="23.3"/>
<circle cx="686.1" cy="1293.8" r="10.8"/>
<circle cx="708.7" cy="1310.4" r="16.7"/>
<circle cx="667.4" cy="1581.2" r="10.8"/>
<circle cx="774.8" cy="1516" r="14.2"/>
<circle cx="683.5" cy="1663" r="10.8"/>
<circle cx="723.3" cy="1539" r="12.5"/>
<circle cx="935" cy="1147.5" r="26.7"/>
<circle cx="764.5" cy="1222" r="12"/>
<circle cx="806.2" cy="1225" r="11.7"/>
<circle cx="847.8" cy="1202.5" r="23.3"/>
<circle cx="893.3" cy="1202.5" r="13"/>
<circle cx="877" cy="1266.3" r="50.5"/>
<circle cx="858.3" cy="1258.3" r="35.8"/>
<circle cx="854.2" cy="1230" r="12.5"/>
<circle cx="854.2" cy="1246.7" r="10"/>
<circle cx="851.7" cy="1248.3" r="17.5"/>
<circle cx="848.3" cy="1248.3" r="21.7"/>
<circle cx="805" cy="1276.7" r="14.2"/>
<circle cx="801.7" cy="1278.3" r="16.7"/>
<circle cx="876.7" cy="1278.3" r="11.7"/>
<circle cx="885" cy="1285" r="13"/>
<circle cx="866.7" cy="1291.7" r="11.7"/>
<circle cx="845" cy="1286.7" r="13.3"/>
<circle cx="835" cy="1280" r="10"/>
<circle cx="833.3" cy="1303.3" r="49.2"/>
<circle cx="825" cy="1293.3" r="40.8"/>
<circle cx="770" cy="1303.3" r="10.8"/>
<circle cx="778.3" cy="1310" r="20.8"/>
<circle cx="771.7" cy="1326.7" r="9.2"/>
<circle cx="818.3" cy="1335" r="10"/>
<circle cx="818.3" cy="1335" r="15"/>
<circle cx="823.3" cy="1318.3" r="16.7"/>
<circle cx="755" cy="1331.7" r="15.8"/>
<circle cx="860.8" cy="1350" r="14.2"/>
<circle cx="786.7" cy="1365" r="25"/>
<circle cx="786.7" cy="1365" r="31.7"/>
<circle cx="841.7" cy="1398.3" r="41.7"/>
<circle cx="830" cy="1426.7" r="31.7"/>
<circle cx="775" cy="1376.7" r="25"/>
<circle cx="786.7" cy="1421.7" r="10.8"/>
<circle cx="725" cy="1481.7" r="10.8"/>
<circle cx="776.7" cy="1445" r="11.7"/>
<circle cx="775" cy="1472.5" r="10.8"/>
<circle cx="758.3" cy="1466.7" r="9.2"/>
<circle cx="740" cy="1441.7" r="25.8"/>
<circle cx="746.7" cy="1446.7" r="11.7"/>
<circle cx="726.7" cy="1443.3" r="13.3"/>
<circle cx="710" cy="1446.7" r="13.3"/>
<circle cx="696.7" cy="1450" r="21.7"/>
<circle cx="703.3" cy="1453.3" r="26.7"/>
<circle cx="773.3" cy="1416.7" r="53.3"/>
<circle cx="807.5" cy="1245.9" r="11.9"/>
<circle cx="719.1" cy="1376.8" r="20"/>
<circle cx="754.7" cy="1266" r="12.5"/>
</g>
<line x1="660.3" y1="985" x2="663.3" y2="1735.5" stroke="#ed1c24" stroke-width="5.6" stroke-linecap="round"/>
<line x1="524.4" y1="1608" x2="474.3" y2="1660" stroke="#231f20" stroke-width="2.3" />
<line x1="797" y1="1626" x2="752.8" y2="1674" stroke="#231f20" stroke-width="2.3" />
</g>
<g id="pd">
<path d="M1194.1 983.8v9.3M1194.1 1734.5v-9.3M1259.8 983.8v9.3M1259.8 1734.5v-9.3M1306.5 983.8v9.3M1306.5 1734.5v-9.3M1342.6 983.8v9.3M1342.6 1734.5v-9.3M1372.2 983.8v9.3M1372.2 1734.5v-9.3M1397.2 983.8v9.3M1397.2 1734.5v-9.3M1418.8 983.8v9.3M1418.8 1734.5v-9.3M1437.9 983.8v9.3M1437.9 1734.5v-9.3M1455 983.8v18M1455 1734.5v-18M1567.4 983.8v9.3M1567.4 1734.5v-9.3M1633.1 983.8v9.3M1633.1 1734.5v-9.3M1679.7 983.8v9.3M1679.7 1734.5v-9.3M1715.9 983.8v9.3M1715.9 1734.5v-9.3M1745.4 983.8v9.3M1745.4 1734.5v-9.3M1770.4 983.8v9.3M1770.4 1734.5v-9.3M1792.1 983.8v9.3M1792.1 1734.5v-9.3M1811.2 983.8v9.3M1811.2 1734.5v-9.3" stroke="#231f20" stroke-width="3.4" stroke-linecap="round" fill="none"/>
<path d="M1081.8 1621.5h9.3M1828.2 1621.5h-9.3M1081.8 1555.4h9.3M1828.2 1555.4h-9.3M1081.8 1508.5h9.3M1828.2 1508.5h-9.3M1081.8 1472.2h9.3M1828.2 1472.2h-9.3M1081.8 1442.4h9.3M1828.2 1442.4h-9.3M1081.8 1417.3h9.3M1828.2 1417.3h-9.3M1081.8 1395.5h9.3M1828.2 1395.5h-9.3M1081.8 1376.3h9.3M1828.2 1376.3h-9.3M1081.8 1359.2h18M1828.2 1359.2h-18M1081.8 1246.1h9.3M1828.2 1246.1h-9.3M1081.8 1180h9.3M1828.2 1180h-9.3M1081.8 1133.1h9.3M1828.2 1133.1h-9.3M1081.8 1096.8h9.3M1828.2 1096.8h-9.3M1081.8 1067h9.3M1828.2 1067h-9.3M1081.8 1041.9h9.3M1828.2 1041.9h-9.3M1081.8 1020.1h9.3M1828.2 1020.1h-9.3M1081.8 1000.9h9.3M1828.2 1000.9h-9.3" stroke="#231f20" stroke-width="3.4" stroke-linecap="round" fill="none"/>
<rect x="1081.8" y="983.8" width="746.5" height="750.8" fill="none" stroke="#231f20" stroke-width="4.4"/>
<polyline points="1312.9 983.8 1321.5 992.3 1330.1 1000.8 1338.7 1009.2 1347.3 1017.7 1355.9 1026.2 1364.5 1034.7 1373 1043.1 1381.6 1051.6 1390.2 1060 1398.8 1068.4 1407.4 1076.8 1416 1085.3 1424.6 1093.6 1433.2 1102 1441.8 1110.4 1450.3 1118.7 1458.9 1127.1 1467.5 1135.4 1476.1 1143.7 1484.7 1152 1493.3 1160.2 1501.9 1168.5 1510.5 1176.7 1519.1 1184.9 1527.6 1193.1 1536.2 1201.3 1544.8 1209.4 1553.4 1217.5 1562 1225.6 1570.6 1233.6 1579.2 1241.6 1587.8 1249.6 1596.4 1257.6 1604.9 1265.5 1613.5 1273.4 1622.1 1281.3 1630.7 1289.1 1639.3 1296.9 1647.9 1304.6 1656.5 1312.3 1665.1 1319.9 1673.7 1327.5 1682.2 1335.1 1690.8 1342.6 1699.4 1350 1708 1357.4 1716.6 1364.7 1725.2 1372 1733.8 1379.2 1742.4 1386.3 1751 1393.4 1759.5 1400.4 1768.1 1407.3 1776.7 1414.2 1785.3 1421 1793.9 1427.7 1802.5 1434.3 1811.1 1440.9 1819.7 1447.3 1828.2 1453.7" fill="none" stroke="#231f20" stroke-width="8.2" stroke-linecap="round"/>
<path d="M1072.3 1038.2l18.8 18.8m0 -18.8l-18.8 18.8M1072.3 1055.2l18.8 18.8m0 -18.8l-18.8 18.8M1183.9 1094.1l18.8 18.8m0 -18.8l-18.8 18.8M1183.9 1134.9l18.8 18.8m0 -18.8l-18.8 18.8M1249.8 1007.4l18.8 18.8m0 -18.8l-18.8 18.8M1249.8 1155.2l18.8 18.8m0 -18.8l-18.8 18.8M1249.8 1190.8l18.8 18.8m0 -18.8l-18.8 18.8M1249.8 1209.9l18.8 18.8m0 -18.8l-18.8 18.8M1249.8 1238.2l18.8 18.8m0 -18.8l-18.8 18.8M1249.8 1249.1l18.8 18.8m0 -18.8l-18.8 18.8M1296.4 978.2l18.8 18.8m0 -18.8l-18.8 18.8M1296.4 1071.6l18.8 18.8m0 -18.8l-18.8 18.8M1296.4 1074.9l18.8 18.8m0 -18.8l-18.8 18.8M1296.4 1101.6l18.8 18.8m0 -18.8l-18.8 18.8M1332.4 1003.8l18.8 18.8m0 -18.8l-18.8 18.8M1332.4 1048.2l18.8 18.8m0 -18.8l-18.8 18.8M1332.4 1079.9l18.8 18.8m0 -18.8l-18.8 18.8M1332.4 1106.6l18.8 18.8m0 -18.8l-18.8 18.8M1332.4 1126.6l18.8 18.8m0 -18.8l-18.8 18.8M1332.4 1204.1l18.8 18.8m0 -18.8l-18.8 18.8M1361.9 1044.9l18.8 18.8m0 -18.8l-18.8 18.8M1361.9 1100.8l18.8 18.8m0 -18.8l-18.8 18.8M1361.9 1109.1l18.8 18.8m0 -18.8l-18.8 18.8M1361.9 1117.4l18.8 18.8m0 -18.8l-18.8 18.8M1361.9 1125.8l18.8 18.8m0 -18.8l-18.8 18.8M1361.9 1153.2l18.8 18.8m0 -18.8l-18.8 18.8M1387.2 1014.9l18.8 18.8m0 -18.8l-18.8 18.8M1387.2 1106.6l18.8 18.8m0 -18.8l-18.8 18.8M1387.2 1134.9l18.8 18.8m0 -18.8l-18.8 18.8M1387.2 1149.1l18.8 18.8m0 -18.8l-18.8 18.8M1387.2 1179.1l18.8 18.8m0 -18.8l-18.8 18.8M1387.2 1249.9l18.8 18.8m0 -18.8l-18.8 18.8M1409.1 1014.1l18.8 18.8m0 -18.8l-18.8 18.8M1409.1 1030.7l18.8 18.8m0 -18.8l-18.8 18.8M1409.1 1064.1l18.8 18.8m0 -18.8l-18.8 18.8M1409.1 1075.8l18.8 18.8m0 -18.8l-18.8 18.8M1409.1 1119.9l18.8 18.8m0 -18.8l-18.8 18.8M1409.1 1177.4l18.8 18.8m0 -18.8l-18.8 18.8M1409.1 1182.4l18.8 18.8m0 -18.8l-18.8 18.8M1409.1 1239.1l18.8 18.8m0 -18.8l-18.8 18.8M1428.1 1099.1l18.8 18.8m0 -18.8l-18.8 18.8M1428.1 1137.4l18.8 18.8m0 -18.8l-18.8 18.8M1428.1 1249.1l18.8 18.8m0 -18.8l-18.8 18.8M1445.2 1056.6l18.8 18.8m0 -18.8l-18.8 18.8M1445.2 1144.9l18.8 18.8m0 -18.8l-18.8 18.8M1445.2 1177.4l18.8 18.8m0 -18.8l-18.8 18.8M1445.2 1239.1l18.8 18.8m0 -18.8l-18.8 18.8M1461.1 1038.2l18.8 18.8m0 -18.8l-18.8 18.8M1461.1 1239.1l18.8 18.8m0 -18.8l-18.8 18.8M1475.2 1059.1l18.8 18.8m0 -18.8l-18.8 18.8M1475.2 1144.9l18.8 18.8m0 -18.8l-18.8 18.8M1475.2 1163.9l18.8 18.8m0 -18.8l-18.8 18.8M1475.2 1177.6l18.8 18.8m0 -18.8l-18.8 18.8M1475.2 1188.2l18.8 18.8m0 -18.8l-18.8 18.8M1475.2 1247.4l18.8 18.8m0 -18.8l-18.8 18.8M1488.2 1072.4l18.8 18.8m0 -18.8l-18.8 18.8M1496.1 1146.6l18.8 18.8m0 -18.8l-18.8 18.8M1488.2 1194.1l18.8 18.8m0 -18.8l-18.8 18.8M1488.2 1245.8l18.8 18.8m0 -18.8l-18.8 18.8M1488.2 1264.1l18.8 18.8m0 -18.8l-18.8 18.8M1500.2 1182.4l18.8 18.8m0 -18.8l-18.8 18.8M1511.4 1154.1l18.8 18.8m0 -18.8l-18.8 18.8M1531.1 1134.1l18.8 18.8m0 -18.8l-18.8 18.8M1550.2 1204.1l18.8 18.8m0 -18.8l-18.8 18.8M1563.6 1215.8l18.8 18.8m0 -18.8l-18.8 18.8M1571.9 1212.4l18.8 18.8m0 -18.8l-18.8 18.8M1593.5 1186.6l18.8 18.8m0 -18.8l-18.8 18.8M1606 1226.6l18.8 18.8m0 -18.8l-18.8 18.8M1633.5 1230.8l18.8 18.8m0 -18.8l-18.8 18.8M1531.1 1277.4l18.8 18.8m0 -18.8l-18.8 18.8M1571.9 1277.4l18.8 18.8m0 -18.8l-18.8 18.8M1578.5 1287.4l18.8 18.8m0 -18.8l-18.8 18.8M1361.9 1386.6l18.8 18.8m0 -18.8l-18.8 18.8M1445.2 1368.2l18.8 18.8m0 -18.8l-18.8 18.8M1488.2 1354.1l18.8 18.8m0 -18.8l-18.8 18.8M1471.1 1307.4l18.8 18.8m0 -18.8l-18.8 18.8M1499.4 1310.8l18.8 18.8m0 -18.8l-18.8 18.8M1540.2 1304.9l18.8 18.8m0 -18.8l-18.8 18.8M1580.2 1300.7l18.8 18.8m0 -18.8l-18.8 18.8M1572.7 1315.8l18.8 18.8m0 -18.8l-18.8 18.8M1548.6 1357.4l18.8 18.8m0 -18.8l-18.8 18.8M1556.9 1365.8l18.8 18.8m0 -18.8l-18.8 18.8M1627.7 1325.8l18.8 18.8m0 -18.8l-18.8 18.8M1611.9 1294.1l18.8 18.8m0 -18.8l-18.8 18.8M1642.7 1387.4l18.8 18.8m0 -18.8l-18.8 18.8M1656.9 1239.1l18.8 18.8m0 -18.8l-18.8 18.8M1665.2 1334.1l18.8 18.8m0 -18.8l-18.8 18.8M1731.9 1315.8l18.8 18.8m0 -18.8l-18.8 18.8M1730.2 1337.4l18.8 18.8m0 -18.8l-18.8 18.8M1735.2 1349.1l18.8 18.8m0 -18.8l-18.8 18.8M1669.4 1394.9l18.8 18.8m0 -18.8l-18.8 18.8M1702.7 1427.4l18.8 18.8m0 -18.8l-18.8 18.8M1690.2 1307.4l18.8 18.8m0 -18.8l-18.8 18.8M1736.9 1272.4l18.8 18.8m0 -18.8l-18.8 18.8M1665.2 1322.4l18.8 18.8m0 -18.8l-18.8 18.8M1720.2 1244.1l18.8 18.8m0 -18.8l-18.8 18.8M1661.4 1298.2l18.8 18.8m0 -18.8l-18.8 18.8M1668.9 1304.5l18.8 18.8m0 -18.8l-18.8 18.8M1676.4 1298.2l18.8 18.8m0 -18.8l-18.8 18.8M1666.4 1293.2l18.8 18.8m0 -18.8l-18.8 18.8M1708.9 1243.2l18.8 18.8m0 -18.8l-18.8 18.8M1717.7 1245.8l18.8 18.8m0 -18.8l-18.8 18.8M1727.7 1243.2l18.8 18.8m0 -18.8l-18.8 18.8M1736.4 1249.5l18.8 18.8m0 -18.8l-18.8 18.8M1704.4 1134.5l18.8 18.8m0 -18.8l-18.8 18.8M1709.4 1160.8l18.8 18.8m0 -18.8l-18.8 18.8M1716.9 1189.5l18.8 18.8m0 -18.8l-18.8 18.8M1728.2 1194.5l18.8 18.8m0 -18.8l-18.8 18.8M1738.2 1198.2l18.8 18.8m0 -18.8l-18.8 18.8M1713.2 1240.8l18.8 18.8m0 -18.8l-18.8 18.8M1723.2 1243.2l18.8 18.8m0 -18.8l-18.8 18.8M1733.2 1247l18.8 18.8m0 -18.8l-18.8 18.8M1715.7 1183l18.8 18.8m0 -18.8l-18.8 18.8M1666.6 1212.4l18.8 18.8m0 -18.8l-18.8 18.8" stroke="#231f20" stroke-width="6.2" stroke-linecap="round" fill="none"/>
<g stroke="#231f20" stroke-width="2.6" fill="#98999c" stroke-linejoin="round">
<rect x="1183.8" y="1105.6" width="19" height="19"/>
<rect x="1183.8" y="1142.3" width="19" height="19"/>
<rect x="1408.8" y="1097.3" width="19" height="19"/>
<rect x="1428" y="1072.3" width="19" height="19"/>
<rect x="1428" y="1118.2" width="19" height="19"/>
<rect x="1445.1" y="1074.8" width="19" height="19"/>
<rect x="1445.1" y="1129.8" width="19" height="19"/>
<rect x="1445.1" y="1169" width="19" height="19"/>
<rect x="1460.6" y="1046.5" width="19" height="19"/>
<rect x="1460.6" y="1207.3" width="19" height="19"/>
<rect x="1460.6" y="1275.3" width="19" height="19"/>
<rect x="1474.3" y="1154" width="19" height="19"/>
<rect x="1510.6" y="1138.2" width="19" height="19"/>
<rect x="1510.6" y="1174.8" width="19" height="19"/>
<rect x="1506.8" y="1229" width="19" height="19"/>
<rect x="1535.1" y="1229" width="19" height="19"/>
<rect x="1521.8" y="1228.1" width="19" height="19"/>
<rect x="1556.8" y="1227.3" width="19" height="19"/>
<rect x="1531" y="1146.5" width="19" height="19"/>
<rect x="1549.3" y="1144.8" width="19" height="19"/>
<rect x="1531" y="1195.7" width="19" height="19"/>
<rect x="1531" y="1245.7" width="19" height="19"/>
<rect x="1593.4" y="1251.5" width="19" height="19"/>
<rect x="1622.6" y="1256.5" width="19" height="19"/>
<rect x="1611.8" y="1277.3" width="19" height="19"/>
<rect x="1474.3" y="1347.3" width="19" height="19"/>
<rect x="1488.1" y="1300.6" width="19" height="19"/>
<rect x="1616.8" y="1350.6" width="19" height="19"/>
<rect x="1634.3" y="1349.8" width="19" height="19"/>
<rect x="1633.4" y="1304" width="19" height="19"/>
<rect x="1681.8" y="1319" width="19" height="19"/>
<rect x="1717.6" y="1329" width="19" height="19"/>
<rect x="1758.4" y="1339" width="19" height="19"/>
<rect x="1745.9" y="1384" width="19" height="19"/>
<rect x="1767.6" y="1394" width="19" height="19"/>
<rect x="1660.1" y="1229.8" width="19" height="19"/>
<rect x="1715.1" y="1230.7" width="19" height="19"/>
<rect x="1706.8" y="1263.2" width="19" height="19"/>
<rect x="1654.3" y="1285.7" width="19" height="19"/>
</g>
<g fill="none" stroke="#231f20" stroke-width="3.7">
<circle cx="1520.1" cy="1108" r="10.8"/>
<circle cx="1549.6" cy="1164.3" r="21.7"/>
<circle cx="1549.6" cy="1198.5" r="23.3"/>
<circle cx="1566.3" cy="1185.2" r="10.8"/>
<circle cx="1602.9" cy="1196" r="16.7"/>
<circle cx="1582.9" cy="1372.7" r="10.8"/>
<circle cx="1812.1" cy="1330.2" r="14.2"/>
<circle cx="1747.9" cy="1426" r="10.8"/>
<circle cx="1767.9" cy="1345.2" r="12.5"/>
<circle cx="1756.6" cy="1089.7" r="26.7"/>
<circle cx="1609.6" cy="1138.3" r="12"/>
<circle cx="1659.3" cy="1140.3" r="11.7"/>
<circle cx="1692.4" cy="1125.6" r="23.3"/>
<circle cx="1744.5" cy="1125.6" r="13"/>
<circle cx="1767.2" cy="1167.3" r="50.5"/>
<circle cx="1740.7" cy="1162" r="35.8"/>
<circle cx="1717.5" cy="1143.6" r="12.5"/>
<circle cx="1728.3" cy="1154.4" r="10"/>
<circle cx="1726.5" cy="1155.5" r="17.5"/>
<circle cx="1722.7" cy="1155.5" r="21.7"/>
<circle cx="1691.4" cy="1174" r="14.2"/>
<circle cx="1688.7" cy="1175.1" r="16.7"/>
<circle cx="1774.6" cy="1175.1" r="11.7"/>
<circle cx="1788.5" cy="1179.4" r="13"/>
<circle cx="1771.8" cy="1183.8" r="11.7"/>
<circle cx="1743.7" cy="1180.5" r="13.3"/>
<circle cx="1728" cy="1176.2" r="10"/>
<circle cx="1741.2" cy="1191.4" r="49.2"/>
<circle cx="1725.2" cy="1184.9" r="40.8"/>
<circle cx="1668.6" cy="1191.4" r="10.8"/>
<circle cx="1682.5" cy="1195.7" r="20.8"/>
<circle cx="1685.7" cy="1206.6" r="9.2"/>
<circle cx="1744.5" cy="1212.1" r="10"/>
<circle cx="1744.5" cy="1212.1" r="15"/>
<circle cx="1739.5" cy="1201.2" r="16.7"/>
<circle cx="1669.8" cy="1209.9" r="15.8"/>
<circle cx="1803" cy="1221.8" r="14.2"/>
<circle cx="1727.7" cy="1231.6" r="25"/>
<circle cx="1727.7" cy="1231.6" r="31.7"/>
<circle cx="1812.4" cy="1253.4" r="41.7"/>
<circle cx="1817.4" cy="1271.9" r="31.7"/>
<circle cx="1721.9" cy="1239.2" r="25"/>
<circle cx="1764.5" cy="1268.6" r="10.8"/>
<circle cx="1732.7" cy="1307.7" r="10.8"/>
<circle cx="1768.1" cy="1283.8" r="11.7"/>
<circle cx="1784.1" cy="1301.7" r="10.8"/>
<circle cx="1761.2" cy="1297.9" r="9.2"/>
<circle cx="1724" cy="1281.6" r="25.8"/>
<circle cx="1734.8" cy="1284.9" r="11.7"/>
<circle cx="1709.8" cy="1282.7" r="13.3"/>
<circle cx="1692.8" cy="1284.9" r="13.3"/>
<circle cx="1679.7" cy="1287.1" r="21.7"/>
<circle cx="1689.5" cy="1289.2" r="26.7"/>
<circle cx="1745.9" cy="1265.3" r="53.3"/>
<circle cx="1674.4" cy="1154" r="11.9"/>
<circle cx="1658" cy="1239.3" r="20"/>
<circle cx="1626.9" cy="1167" r="12.5"/>
</g>
<line x1="1238" y1="983.8" x2="1828.2" y2="1628.5" stroke="#2e3192" stroke-width="4.6" stroke-linecap="round"/>
<line x1="1246.8" y1="983.8" x2="1828.2" y2="1561.4" stroke="#006838" stroke-width="4.6" stroke-linecap="round"/>
<line x1="1081.8" y1="1213.8" x2="1828.2" y2="1420.5" stroke="#ec008c" stroke-width="5.6" stroke-linecap="round"/>
<line x1="1652" y1="977.5" x2="1487" y2="1145" stroke="#231f20" stroke-width="2.3" />
</g>
<g id="legend">
<path d="M182 2040.3H211M225 2040.3H246" stroke="#231f20" stroke-width="4.6" stroke-linecap="round" fill="none"/>
<line x1="183.5" y1="2096.5" x2="245" y2="2096.5" stroke="#231f20" stroke-width="7.6" stroke-linecap="round"/>
<circle cx="997.3" cy="2017" r="33.5" fill="none" stroke="#231f20" stroke-width="3.5"/>
<circle cx="997.3" cy="2096.9" r="10.5" fill="none" stroke="#231f20" stroke-width="3.6"/>
<path d="M1452.9 2013.6l18.8 18.8m0 -18.8l-18.8 18.8" stroke="#231f20" stroke-width="6.2" stroke-linecap="round" fill="none"/>
<rect x="1452.8" y="2087.2" width="19" height="19" fill="#98999c" stroke="#231f20" stroke-width="2.6" stroke-linejoin="round"/>
</g>
<text id="ta" x="579" y="46.5" font-size="47" letter-spacing="3.06" xml:space="preserve"><tspan font-style="italic">D</tspan> (h)</text>
<text id="tb" x="1396" y="46.5" font-size="47" letter-spacing="3.0" xml:space="preserve"><tspan font-style="italic">D</tspan> (h)</text>
<text id="td" x="1409.8" y="1876.2" font-size="47" letter-spacing="3.0" xml:space="preserve"><tspan font-style="italic">D</tspan> (h)</text>
<text id="tc" x="548" y="1878.8" font-size="47" letter-spacing="2.42" xml:space="preserve">Rt (mm)</text>
<text id="ya" transform="translate(101.4 660.3) rotate(-90)" font-size="48" letter-spacing="2.53" xml:space="preserve"><tspan font-style="italic">I</tspan> (mm h<tspan font-size="32" dy="-25">-1</tspan><tspan dy="25">)</tspan></text>
<text id="yc" transform="translate(104.4 1476.3) rotate(-90)" font-size="48" letter-spacing="2.51" xml:space="preserve"><tspan font-style="italic">I</tspan> (mm h<tspan font-size="32" dy="-25">-1</tspan><tspan dy="25">)</tspan></text>
<text id="yd" transform="translate(2017.2 1477) rotate(-90)" font-size="48" letter-spacing="2.47" xml:space="preserve"><tspan font-style="italic">I</tspan> (mm h<tspan font-size="32" dy="-25">-1</tspan><tspan dy="25">)</tspan></text>
<text id="yb" transform="translate(2009 639.2) rotate(-90)" font-size="47" letter-spacing="3.04" xml:space="preserve">Rt (mm)</text>
<text id="a_t1" x="251" y="142" font-size="47" letter-spacing="5" xml:space="preserve">1</text>
<text id="a_t10" x="611.8" y="142" font-size="47" letter-spacing="4.25" xml:space="preserve">10</text>
<text id="a_t100" x="971.5" y="142" font-size="47" letter-spacing="3.75" xml:space="preserve">100</text>
<text id="b_t1" x="1065.8" y="142" font-size="47" letter-spacing="5" xml:space="preserve">1</text>
<text id="b_t10" x="1427.2" y="142" font-size="47" letter-spacing="4.25" xml:space="preserve">10</text>
<text id="b_t100" x="1788" y="142" font-size="47" letter-spacing="3.75" xml:space="preserve">100</text>
<text id="a_l100" x="158.5" y="186.1" font-size="47" letter-spacing="3.75" xml:space="preserve">100</text>
<text id="a_l10" x="185.2" y="562" font-size="47" letter-spacing="4.25" xml:space="preserve">10</text>
<text id="a_l1" x="211.5" y="943" font-size="47" letter-spacing="5" xml:space="preserve">1</text>
<text id="b_r3" x="1854.5" y="439.1" font-size="47" letter-spacing="4.25" xml:space="preserve">10<tspan font-size="28" dy="-19">3</tspan></text>
<text id="b_r2" x="1854.5" y="766" font-size="47" letter-spacing="4.25" xml:space="preserve">10<tspan font-size="28" dy="-19">2</tspan></text>
<text id="c_l100" x="162" y="1004" font-size="47" letter-spacing="3.25" xml:space="preserve">100</text>
<text id="c_l10" x="188" y="1579" font-size="47" letter-spacing="4.5" xml:space="preserve">10</text>
<text id="c_b2" x="403" y="1810" font-size="47" letter-spacing="3.5" xml:space="preserve">10<tspan font-size="28" dy="-19">2</tspan></text>
<text id="c_b3" x="728" y="1810" font-size="47" letter-spacing="3.62" xml:space="preserve">10<tspan font-size="28" dy="-19">3</tspan></text>
<text id="c_500" x="624" y="1777" font-size="39" letter-spacing="3.62" fill="#ed1c24" xml:space="preserve">500</text>
<text id="d_b1" x="1067" y="1810" font-size="47" letter-spacing="5" xml:space="preserve">1</text>
<text id="d_b10" x="1427.5" y="1810" font-size="47" letter-spacing="4.0" xml:space="preserve">10</text>
<text id="d_b100" x="1788" y="1810" font-size="47" letter-spacing="3.38" xml:space="preserve">100</text>
<text id="d_r100" x="1854" y="1003" font-size="47" letter-spacing="3.38" xml:space="preserve">100</text>
<text id="d_r10" x="1853.5" y="1378" font-size="47" letter-spacing="4.2" xml:space="preserve">10</text>
<text id="d_r1" x="1853.5" y="1754" font-size="47" letter-spacing="5" xml:space="preserve">1</text>
<text id="la" x="953.5" y="215" font-size="46" letter-spacing="2.25" xml:space="preserve">(a)</text>
<text id="lb" x="1760.5" y="215" font-size="46" letter-spacing="3.5" xml:space="preserve">(b)</text>
<text id="lc" x="954.2" y="1032.2" font-size="46" letter-spacing="3.25" xml:space="preserve">(c)</text>
<text id="ld" x="1761.2" y="1031.5" font-size="46" letter-spacing="3.12" xml:space="preserve">(d)</text>
<text id="eq1" x="310.4" y="116.4" font-size="39" letter-spacing="1.48" xml:space="preserve">I = 71.9<tspan dx="8">D</tspan><tspan font-size="24.5" dy="-22" dx="3" letter-spacing="1.5">-0.47</tspan></text>
<text id="eq2" x="15.2" y="342" font-size="39" letter-spacing="1.68" xml:space="preserve">I = 40.9<tspan dx="8">D</tspan><tspan font-size="24.5" dy="-22" dx="3" letter-spacing="1.5">-0.47</tspan></text>
<text id="eq3" x="1117" y="392" font-size="47" letter-spacing="3.95" xml:space="preserve" word-spacing="-6">Rt <tspan font-style="italic">D</tspan> = 12773</text>
<text id="eq4" x="1550.2" y="807" font-size="47" letter-spacing="3.69" xml:space="preserve" word-spacing="-6">Rt <tspan font-style="italic">D</tspan> = 487</text>
<text id="eq5" x="1457" y="967.3" font-size="47" letter-spacing="3.32" xml:space="preserve" word-spacing="-5">(<tspan font-style="italic">I</tspan> - 1.5) <tspan font-style="italic">D</tspan> = 430.2</text>
<text id="eq6" x="308.2" y="1709" font-size="47" letter-spacing="4.92" xml:space="preserve" word-spacing="-8"><tspan letter-spacing="0.5">Rt</tspan><tspan letter-spacing="0"> </tspan><tspan font-style="italic">I</tspan> = 1541</text>
<text id="eq7" x="748.2" y="1622" font-size="47" letter-spacing="3.14" xml:space="preserve"><tspan font-style="italic">Rt</tspan><tspan font-style="italic" dx="5">I</tspan> = 5640</text>
<text id="chen15" transform="translate(310.5 485.6) rotate(8.6)" font-size="39" letter-spacing="2.5" fill="#ed1c24" xml:space="preserve">Chen et al., 2015</text>
<text id="jan05" transform="translate(299.9 591.1) rotate(10.4)" font-size="39" letter-spacing="2.44" fill="#ec008c" xml:space="preserve">Jan et al., 2005</text>
<text id="caine" transform="translate(670 609) rotate(22)" font-size="39" letter-spacing="2.67" fill="#2e3192" xml:space="preserve">Caine, 1987</text>
<text id="guz" x="305" y="766.3" font-size="39" letter-spacing="2.23" fill="#006838" xml:space="preserve">Guzzetti et al., 2007</text>
<text id="saito" x="661" y="830" font-size="39" letter-spacing="2.15" fill="#8c0a55" xml:space="preserve">Saito et al., 2010</text>
<text id="chen13" transform="translate(1108.8 1251.5) rotate(15.5)" font-size="39" letter-spacing="2.46" fill="#ec008c" xml:space="preserve">Chen et al., 2013c</text>
<text id="napo" transform="translate(1580.8 1399.1) rotate(47)" font-size="39" letter-spacing="1.98" fill="#2e3192" xml:space="preserve">Napolitano et al., 2016</text>
<text id="salc" transform="translate(1757 1452.2) rotate(45)" font-size="39" letter-spacing="2.24" fill="#006838" xml:space="preserve">Salciarini et al., 2012</text>
<text id="lg1" x="302.2" y="2054.5" font-size="40" letter-spacing="1.42" font-weight="normal" xml:space="preserve">Critical curve for small landslide</text>
<text id="lg2" x="302.2" y="2109.2" font-size="40" letter-spacing="1.44" font-weight="normal" xml:space="preserve">Critical curve for large landslide</text>
<text id="lgL" x="954.3" y="1969.5" font-size="39" letter-spacing="2.39" xml:space="preserve">Large landslide:</text>
<text id="lgS" x="1445.8" y="1973" font-size="39" letter-spacing="2.38" xml:space="preserve">Small landslide:</text>
<text id="lg3" x="1074" y="2039.4" font-size="40" letter-spacing="1.81" font-weight="normal" xml:space="preserve">1 km<tspan font-size="23" dy="-23">2</tspan><tspan dy="23"> landslide</tspan></text>
<text id="lg4" x="1073" y="2111.4" font-size="40" letter-spacing="1.77" font-weight="normal" xml:space="preserve">0.1 km<tspan font-size="23" dy="-23">2</tspan><tspan dy="23"> landslide</tspan></text>
<text id="lg5" x="1534.6" y="2046" font-size="40" letter-spacing="2.19" font-weight="normal" xml:space="preserve">&lt;0.01 km<tspan font-size="23" dy="-23">2</tspan><tspan dy="23"> landslide</tspan></text>
<text id="lg6" x="1534.6" y="2115" font-size="40" letter-spacing="2.25" font-weight="normal" xml:space="preserve">0.01–0.1 km<tspan font-size="23" dy="-23">2</tspan><tspan dy="23"> landslide</tspan></text>
</g>
</svg>
</body></html>
